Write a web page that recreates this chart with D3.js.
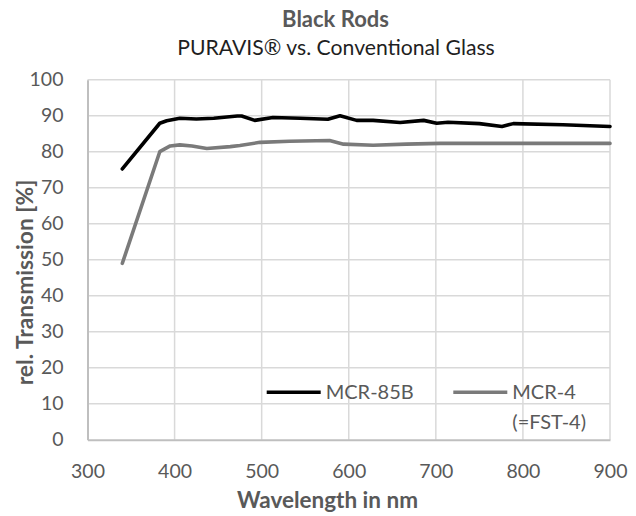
<!DOCTYPE html>
<html>
<head>
<meta charset="utf-8">
<script src="https://cdn.jsdelivr.net/npm/d3@7"></script>
<style>
  html, body { margin: 0; padding: 0; background: #fff; }
  svg { display: block; font-family: Lato, "Open Sans", sans-serif; }
</style>
</head>
<body>
<svg id="chart" width="636" height="516"></svg>
<script>
// ---- Data ----
const chartTitle = "Black Rods";
const chartSubtitle = "PURAVIS® vs. Conventional Glass";
const xAxisTitle = "Wavelength in nm";
const yAxisTitle = "rel. Transmission [%]";

const seriesNames = ["MCR-85B", "MCR-4"];
const seriesNoteLines = [[], ["(=FST-4)"]];

const wavelengthsMCR85B = [340, 383, 391, 406, 425, 445, 472, 477, 492, 513, 544, 576, 590, 609, 628, 659, 686, 701, 714, 750, 776, 789, 846, 900];
const transmissionMCR85B = [75.2, 87.9, 88.6, 89.3, 89.1, 89.3, 89.9, 89.9, 88.7, 89.5, 89.3, 89.0, 90.0, 88.7, 88.7, 88.1, 88.7, 87.9, 88.2, 87.8, 87.0, 87.8, 87.5, 87.0];

const wavelengthsMCR4 = [340, 383, 395, 406, 420, 437, 464, 475, 498, 532, 578, 594, 628, 666, 705, 800, 900];
const transmissionMCR4 = [49.0, 80.0, 81.6, 81.9, 81.6, 80.9, 81.4, 81.7, 82.6, 82.9, 83.1, 82.1, 81.8, 82.1, 82.3, 82.3, 82.3];

const xTickValues = [300, 400, 500, 600, 700, 800, 900];
const yTickValues = [0, 10, 20, 30, 40, 50, 60, 70, 80, 90, 100];

// ---- Layout ----
const svg = d3.select("#chart");
const plot = { left: 87.5, right: 610, top: 79.7, bottom: 439.7 };
const x = d3.scaleLinear().domain([300, 900]).range([plot.left, plot.right]);
const y = d3.scaleLinear().domain([0, 100]).range([plot.bottom, plot.top]);

const tickColor = "#595959";
const gridColor = "#d9d9d9";
const axisColor = "#bfbfbf";
const seriesColors = ["#000000", "#7a7a7a"];

// gridlines
svg.append("g").selectAll("line.h").data(yTickValues.filter(d => d > 0)).join("line")
  .attr("x1", plot.left).attr("x2", plot.right)
  .attr("y1", d => y(d)).attr("y2", d => y(d))
  .attr("stroke", gridColor).attr("stroke-width", 1.5);
svg.append("g").selectAll("line.v").data(xTickValues.filter(d => d > 300)).join("line")
  .attr("x1", d => x(d)).attr("x2", d => x(d))
  .attr("y1", plot.top).attr("y2", plot.bottom)
  .attr("stroke", gridColor).attr("stroke-width", 1.5);

// axes
const xAxis = d3.axisBottom(x).tickValues(xTickValues).tickSize(0).tickPadding(24).tickFormat(d3.format("d"));
const gx = svg.append("g").attr("transform", `translate(0,${plot.bottom})`).call(xAxis);
gx.select(".domain").attr("stroke", axisColor).attr("stroke-width", 2);
gx.selectAll("text").attr("fill", tickColor).style("font-size", "19.5px").attr("font-family", "Lato");

const yAxis = d3.axisLeft(y).tickValues(yTickValues).tickSize(0).tickPadding(24).tickFormat(d3.format("d"));
const gy = svg.append("g").attr("transform", `translate(${plot.left},0)`).call(yAxis);
gy.select(".domain").attr("stroke", axisColor).attr("stroke-width", 2);
gy.selectAll("text").attr("fill", tickColor).style("font-size", "19.5px").attr("font-family", "Lato");

// series lines
const line = d3.line().x(d => x(d[0])).y(d => y(d[1])).curve(d3.curveLinear);
const series = [
  d3.zip(wavelengthsMCR85B, transmissionMCR85B),
  d3.zip(wavelengthsMCR4, transmissionMCR4)
];
svg.append("g").selectAll("path").data([series[1], series[0]]).join("path")
  .attr("d", line)
  .attr("fill", "none")
  .attr("stroke", (d, i) => i === 0 ? seriesColors[1] : seriesColors[0])
  .attr("stroke-width", 3.6)
  .attr("stroke-linejoin", "round")
  .attr("stroke-linecap", "round");

// legend
const legend = svg.append("g");
const legendItems = [
  { name: seriesNames[0], notes: seriesNoteLines[0], color: seriesColors[0], x0: 266.7 },
  { name: seriesNames[1], notes: seriesNoteLines[1], color: seriesColors[1], x0: 453.3 }
];
const legendY = 392.3;
legendItems.forEach(it => {
  legend.append("line").attr("x1", it.x0).attr("x2", it.x0 + 54)
    .attr("y1", legendY).attr("y2", legendY)
    .attr("stroke", it.color).attr("stroke-width", 3.6);
  legend.append("text").attr("x", it.x0 + 59).attr("y", legendY + 7)
    .attr("fill", tickColor).style("font-size", "20px").text(it.name);
  it.notes.forEach((n, k) => {
    legend.append("text").attr("x", it.x0 + 59).attr("y", legendY + 7 + 30 * (k + 1))
      .attr("fill", tickColor).style("font-size", "20px").text(n);
  });
});

// titles
svg.append("text").attr("x", 335.5).attr("y", 26.7).attr("text-anchor", "middle")
  .attr("fill", "#595959").style("font-size", "22px").style("font-weight", "bold").text(chartTitle);
svg.append("text").attr("x", 336).attr("y", 55).attr("text-anchor", "middle")
  .attr("fill", "#1f1f1f").style("font-size", "21.2px").text(chartSubtitle);

svg.append("text").attr("x", 327.5).attr("y", 508).attr("text-anchor", "middle")
  .attr("fill", "#595959").style("font-size", "22.5px").style("font-weight", "bold").text(xAxisTitle);

svg.append("text").attr("transform", "translate(32.5,282.5) rotate(-90)").attr("text-anchor", "middle")
  .attr("fill", "#595959").style("font-size", "22.8px").style("font-weight", "bold").text(yAxisTitle);
</script>
</body>
</html>
